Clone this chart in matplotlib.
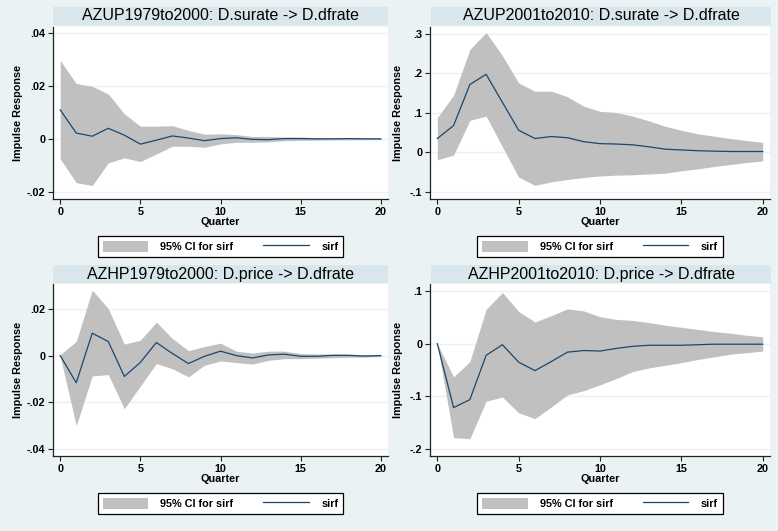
import matplotlib
matplotlib.use('Agg')
import matplotlib.pyplot as plt
from matplotlib.patches import Patch
from matplotlib.lines import Line2D

plt.rcParams['font.family'] = ['Liberation Sans', 'DejaVu Sans']

# ---------------- data ----------------
quarters = [0, 1, 2, 3, 4, 5, 6, 7, 8, 9, 10, 11, 12, 13, 14, 15, 16, 17, 18, 19, 20]
xticks = [0, 5, 10, 15, 20]
xticklabels = ["0", "5", "10", "15", "20"]

title1 = "AZUP1979to2000: D.surate -> D.dfrate"
sirf1 = [0.011, 0.0022, 0.001, 0.004, 0.0014, -0.002, -0.0005, 0.0011, 0.0003, -0.0007, 0.0001,
         0.0004, -0.0002, -0.0003, 0.0001, 0.0001, 0.0, 0.0, 0.0001, 0.0, 0.0]
lo1 = [-0.0076, -0.0166, -0.0177, -0.0091, -0.0072, -0.0086, -0.0057, -0.0028, -0.0028, -0.0032, -0.0019,
       -0.0013, -0.0013, -0.0011, -0.0007, -0.0006, -0.0005, -0.0004, -0.0004, -0.0003, -0.0003]
hi1 = [0.0297, 0.021, 0.0199, 0.017, 0.0095, 0.0048, 0.0048, 0.005, 0.0032, 0.0018, 0.0019,
       0.0016, 0.0009, 0.0009, 0.0007, 0.0007, 0.0005, 0.0004, 0.0004, 0.0003, 0.0003]
yticks1 = [-0.02, 0, 0.02, 0.04]
ylabels1 = ["-.02", "0", ".02", ".04"]

title2 = "AZUP2001to2010: D.surate -> D.dfrate"
sirf2 = [0.035, 0.068, 0.172, 0.198, 0.127, 0.056, 0.035, 0.040, 0.037, 0.027, 0.022,
         0.021, 0.019, 0.014, 0.008, 0.006, 0.004, 0.003, 0.002, 0.002, 0.002]
lo2 = [-0.019, -0.007, 0.081, 0.092, 0.014, -0.063, -0.084, -0.075, -0.069, -0.064, -0.060,
       -0.058, -0.057, -0.055, -0.053, -0.047, -0.042, -0.036, -0.031, -0.026, -0.022]
hi2 = [0.088, 0.145, 0.261, 0.304, 0.245, 0.176, 0.155, 0.155, 0.141, 0.117, 0.104,
       0.101, 0.092, 0.080, 0.066, 0.056, 0.047, 0.041, 0.035, 0.030, 0.025]
yticks2 = [-0.1, 0, 0.1, 0.2, 0.3]
ylabels2 = ["-.1", "0", ".1", ".2", ".3"]

title3 = "AZHP1979to2000: D.price -> D.dfrate"
sirf3 = [0.0, -0.0116, 0.0096, 0.006, -0.0089, -0.0029, 0.0056, 0.0009, -0.0034, -0.0003, 0.0019,
         0.0, -0.001, 0.0003, 0.0006, -0.0003, -0.0003, 0.0001, 0.0001, -0.0002, 0.0]
lo3 = [-0.0004, -0.0299, -0.0087, -0.0081, -0.0227, -0.013, -0.0034, -0.0056, -0.0091, -0.0041, -0.0023,
       -0.003, -0.0036, -0.002, -0.0013, -0.0013, -0.0011, -0.0009, -0.0007, -0.0006, -0.0004]
hi3 = [0.0004, 0.0061, 0.028, 0.0201, 0.0049, 0.0066, 0.0143, 0.0073, 0.0021, 0.0039, 0.0053,
       0.0019, 0.0011, 0.0019, 0.0019, 0.0009, 0.0007, 0.0007, 0.0006, 0.0004, 0.0003]
yticks3 = [-0.04, -0.02, 0, 0.02]
ylabels3 = ["-.04", "-.02", "0", ".02"]

title4 = "AZHP2001to2010: D.price -> D.dfrate"
sirf4 = [0.0, -0.121, -0.106, -0.022, -0.002, -0.035, -0.051, -0.034, -0.016, -0.013, -0.014,
         -0.009, -0.005, -0.003, -0.003, -0.003, -0.002, -0.001, -0.001, -0.001, -0.001]
lo4 = [0.0, -0.178, -0.180, -0.109, -0.101, -0.131, -0.142, -0.120, -0.097, -0.089, -0.078,
       -0.066, -0.053, -0.046, -0.041, -0.036, -0.030, -0.025, -0.020, -0.017, -0.014]
hi4 = [0.0, -0.063, -0.034, 0.065, 0.097, 0.061, 0.041, 0.053, 0.066, 0.062, 0.051,
       0.046, 0.044, 0.040, 0.035, 0.031, 0.027, 0.023, 0.020, 0.016, 0.013]
yticks4 = [-0.2, -0.1, 0, 0.1]
ylabels4 = ["-.2", "-.1", "0", ".1"]

ci_label = "95% CI for sirf"
line_label = "sirf"
xlabel = "Quarter"
ylabel = "Impulse Response"

# ---------------- style / layout ----------------
W, H = 778, 531
BG = '#eaf2f3'
BAR = '#d9e6eb'
GRID = '#eaf2f3'
FILL = '#c0c0c0'
NAVY = '#1a476f'
FS = 7.8

fig = plt.figure(figsize=(W / 100, H / 100), dpi=100, facecolor=BG)


def rect(l, t, r, b):
    return [l / W, 1 - b / H, (r - l) / W, (b - t) / H]


panels = [
    dict(title=title1, sirf=sirf1, lo=lo1, hi=hi1, yt=yticks1, yl=ylabels1, ylim=(-0.0228, 0.0424),
         box=(53, 27, 388, 199), bar=(53, 7, 388, 25), ylx=-0.090),
    dict(title=title2, sirf=sirf2, lo=lo2, hi=hi2, yt=yticks2, yl=ylabels2, ylim=(-0.1185, 0.318),
         box=(430, 27, 770, 199), bar=(431, 7, 771, 25), ylx=-0.079),
    dict(title=title3, sirf=sirf3, lo=lo3, hi=hi3, yt=yticks3, yl=ylabels3, ylim=(-0.0429, 0.0306),
         box=(53, 284, 388, 456), bar=(53, 265, 388, 283), ylx=-0.090),
    dict(title=title4, sirf=sirf4, lo=lo4, hi=hi4, yt=yticks4, yl=ylabels4, ylim=(-0.2127, 0.113),
         box=(430, 284, 770, 456), bar=(431, 265, 771, 283), ylx=-0.079),
]

for p in panels:
    # title bar
    bax = fig.add_axes(rect(*p['bar']))
    bax.set_facecolor(BAR)
    bax.set_xticks([])
    bax.set_yticks([])
    for s in bax.spines.values():
        s.set_visible(False)
    bax.text(0.5, 0.5, p['title'], ha='center', va='center', fontsize=11.5,
             transform=bax.transAxes, color='black')

    ax = fig.add_axes(rect(*p['box']))
    ax.set_facecolor('white')
    ax.fill_between(quarters, p['lo'], p['hi'], color=FILL, linewidth=0, zorder=2)
    ax.plot(quarters, p['sirf'], color=NAVY, linewidth=0.9, zorder=3)
    ax.set_xlim(-0.45, 20.45)
    ax.set_ylim(*p['ylim'])
    ax.set_xticks(xticks)
    ax.set_xticklabels(xticklabels)
    ax.set_yticks(p['yt'])
    ax.set_yticklabels(p['yl'])
    ax.grid(axis='y', color=GRID, linewidth=1.0, zorder=1)
    ax.set_axisbelow(True)
    for side in ('top', 'right'):
        ax.spines[side].set_visible(False)
    for side in ('left', 'bottom'):
        ax.spines[side].set_color('#222222')
        ax.spines[side].set_linewidth(0.9)
    ax.tick_params(direction='out', length=3.5, width=0.8, color='#222222', pad=2)
    for lab in ax.get_xticklabels() + ax.get_yticklabels():
        lab.set_fontsize(FS)
        lab.set_fontweight('bold')
    ax.set_xlabel(xlabel, fontsize=FS, fontweight='bold')
    ax.xaxis.set_label_coords(0.5, -0.105)
    ax.set_ylabel(ylabel, fontsize=FS, fontweight='bold')
    ax.yaxis.set_label_coords(p['ylx'], 0.5)

    handles = [Patch(facecolor=FILL, edgecolor='none'),
               Line2D([0], [0], color=NAVY, linewidth=0.9)]
    leg = ax.legend(handles, [ci_label, line_label], ncol=2, loc='center',
                    bbox_to_anchor=(0.5, -0.275), frameon=True, fancybox=False,
                    edgecolor='black', framealpha=1, facecolor='white',
                    prop=dict(size=FS, weight='bold'), handlelength=4.2,
                    handleheight=1.15, handletextpad=1.15, columnspacing=2.75,
                    borderpad=0.45)
    leg.get_frame().set_linewidth(0.9)

fig.savefig('out.png', dpi=100, facecolor=BG)
